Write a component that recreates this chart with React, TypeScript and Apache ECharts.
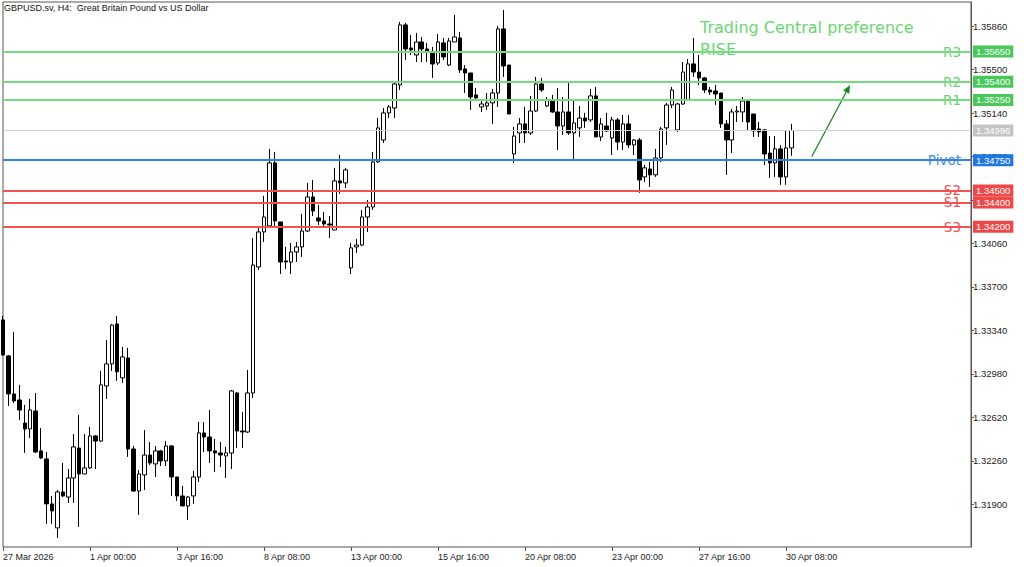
import React, { useEffect, useRef } from "react";
import * as echarts from "echarts";

// ---- Data (GBPUSD H4) ----
const opens = [
  1.33427, 1.33129, 1.32814, 1.32764, 1.32573, 1.32524, 1.32673, 1.32342, 1.32275, 1.31903,
  1.31704, 1.32002, 1.3196, 1.32118, 1.32366, 1.32151, 1.32201, 1.32466, 1.32424, 1.3288,
  1.33063, 1.33394, 1.32947, 1.33112, 1.32358, 1.3201, 1.32143, 1.32308, 1.32234, 1.32342,
  1.32259, 1.32383, 1.32126, 1.31969, 1.31886, 1.31969, 1.32126, 1.32491, 1.32457, 1.32342,
  1.32325, 1.323, 1.32325, 1.32822, 1.32507, 1.32499, 1.32822, 1.33866, 1.34156, 1.34206,
  1.34728, 1.34239, 1.33916, 1.33907, 1.3399, 1.34032, 1.34164, 1.34446, 1.34272, 1.34247,
  1.34222, 1.34172, 1.34579, 1.34562, 1.33858, 1.34032, 1.34048, 1.3428, 1.34363, 1.34736,
  1.34918, 1.35142, 1.35183, 1.35374, 1.35871, 1.3568, 1.35622, 1.3573, 1.35672, 1.35647,
  1.35556, 1.35722, 1.35539, 1.3573, 1.35763, 1.35506, 1.35473, 1.35291, 1.35192, 1.352,
  1.35225, 1.35307, 1.35838, 1.35539, 1.34802, 1.34976, 1.35051, 1.34976, 1.35158, 1.35382,
  1.352, 1.3525, 1.3515, 1.35034, 1.3515, 1.34976, 1.35018, 1.351, 1.35084, 1.35283,
  1.34943, 1.35034, 1.34935, 1.35084, 1.34901, 1.35051, 1.34877, 1.34918, 1.34612, 1.34678,
  1.34629, 1.34769, 1.35018, 1.35208, 1.35001, 1.35216, 1.3525, 1.35548, 1.35481, 1.35432,
  1.35332, 1.35324, 1.35307, 1.35051, 1.34918, 1.3515, 1.3515, 1.35241, 1.35133, 1.35009,
  1.35001, 1.3481, 1.34728, 1.34844, 1.34612, 1.34852,
];
const closes = [
  1.33137, 1.32814, 1.32756, 1.32681, 1.32524, 1.32681, 1.32333, 1.32284, 1.31903, 1.31845,
  1.32002, 1.31969, 1.32118, 1.32375, 1.32151, 1.32201, 1.32466, 1.32424, 1.32889, 1.33063,
  1.33385, 1.32997, 1.33121, 1.32358, 1.3201, 1.32151, 1.32308, 1.32242, 1.32342, 1.32259,
  1.32383, 1.32126, 1.31969, 1.31886, 1.3196, 1.32126, 1.32491, 1.32457, 1.32342, 1.32325,
  1.32308, 1.32325, 1.32839, 1.32507, 1.32499, 1.32822, 1.33882, 1.34156, 1.3428, 1.34728,
  1.34247, 1.33907, 1.33907, 1.3399, 1.34032, 1.34164, 1.34446, 1.3433, 1.34247, 1.34222,
  1.34214, 1.34579, 1.34562, 1.3467, 1.34024, 1.34048, 1.3428, 1.34363, 1.34736, 1.35018,
  1.35142, 1.35192, 1.35382, 1.35871, 1.35672, 1.35664, 1.3573, 1.35672, 1.35647, 1.35548,
  1.3573, 1.35606, 1.35738, 1.35771, 1.35498, 1.35473, 1.35274, 1.35266, 1.35216, 1.35225,
  1.35307, 1.35838, 1.35531, 1.35133, 1.34951, 1.35051, 1.34976, 1.35158, 1.35382, 1.35332,
  1.3525, 1.3515, 1.35034, 1.3515, 1.34976, 1.35059, 1.351, 1.35076, 1.35283, 1.34943,
  1.35051, 1.34993, 1.35084, 1.34901, 1.35051, 1.34877, 1.34918, 1.34587, 1.34687, 1.34629,
  1.34769, 1.35009, 1.35208, 1.35332, 1.35216, 1.35481, 1.35548, 1.35481, 1.35432, 1.35332,
  1.35316, 1.35299, 1.35051, 1.34918, 1.3515, 1.35158, 1.35241, 1.35067, 1.34993, 1.34984,
  1.34802, 1.34728, 1.34844, 1.34612, 1.34852, 1.34996,
];
const lows = [
  1.33129, 1.32714, 1.32739, 1.32598, 1.32325, 1.32449, 1.32325, 1.32275, 1.31737, 1.31737,
  1.31621, 1.3196, 1.31911, 1.31911, 1.31712, 1.32151, 1.32192, 1.32192, 1.32416, 1.32772,
  1.33005, 1.32922, 1.32905, 1.32292, 1.32002, 1.31812, 1.32018, 1.32226, 1.32126, 1.32217,
  1.32217, 1.31969, 1.31927, 1.31886, 1.3177, 1.31903, 1.32085, 1.32333, 1.32242, 1.32168,
  1.32209, 1.32118, 1.32192, 1.32366, 1.32366, 1.32491, 1.32781, 1.33841, 1.34073, 1.34197,
  1.34197, 1.33808, 1.33849, 1.33808, 1.33907, 1.33949, 1.34156, 1.34288, 1.34214, 1.34197,
  1.34106, 1.34172, 1.34471, 1.3452, 1.33808, 1.33982, 1.3404, 1.34156, 1.34338, 1.34728,
  1.34893, 1.351, 1.351, 1.35332, 1.35581, 1.35622, 1.35564, 1.35564, 1.35564, 1.35432,
  1.35539, 1.35581, 1.35531, 1.3573, 1.35473, 1.35307, 1.35167, 1.3525, 1.3515, 1.35167,
  1.35051, 1.35192, 1.3544, 1.35133, 1.34728, 1.34893, 1.34893, 1.3496, 1.3515, 1.35316,
  1.35192, 1.35142, 1.34835, 1.3496, 1.3496, 1.34753, 1.34943, 1.35018, 1.35067, 1.34943,
  1.3491, 1.34984, 1.34794, 1.34835, 1.34835, 1.34852, 1.34794, 1.3448, 1.3457, 1.34529,
  1.34612, 1.34736, 1.34877, 1.35183, 1.34984, 1.35208, 1.3525, 1.3544, 1.35374, 1.35307,
  1.35291, 1.35208, 1.35018, 1.34629, 1.3481, 1.35067, 1.35067, 1.35001, 1.34943, 1.34943,
  1.34711, 1.34604, 1.34612, 1.34546, 1.34546, 1.34786,
];
const highs = [
  1.3346, 1.33137, 1.33328, 1.32889, 1.32723, 1.32772, 1.32822, 1.32532, 1.32333, 1.31969,
  1.32018, 1.32242, 1.32192, 1.32482, 1.3264, 1.32482, 1.3254, 1.32474, 1.33005, 1.33261,
  1.33394, 1.3346, 1.33204, 1.33195, 1.32383, 1.32184, 1.32515, 1.32416, 1.32383, 1.3235,
  1.32424, 1.32391, 1.32126, 1.32052, 1.31969, 1.32176, 1.32582, 1.32582, 1.32681, 1.32441,
  1.32416, 1.32375, 1.32847, 1.3283, 1.32665, 1.33013, 1.34106, 1.34189, 1.34455, 1.34844,
  1.34819, 1.34239, 1.34032, 1.34065, 1.34073, 1.34305, 1.34562, 1.34587, 1.3438, 1.34322,
  1.34288, 1.34687, 1.34794, 1.34687, 1.34065, 1.34098, 1.34338, 1.34421, 1.34819, 1.351,
  1.35183, 1.35208, 1.3539, 1.35896, 1.35887, 1.35788, 1.35805, 1.35771, 1.35722, 1.35689,
  1.35796, 1.35763, 1.35763, 1.35954, 1.35813, 1.35539, 1.35473, 1.35349, 1.3525, 1.35307,
  1.35341, 1.35863, 1.35995, 1.35539, 1.35026, 1.351, 1.35192, 1.35283, 1.3544, 1.35432,
  1.35274, 1.35291, 1.35349, 1.35274, 1.35399, 1.3525, 1.352, 1.35142, 1.35341, 1.35357,
  1.351, 1.35142, 1.35109, 1.351, 1.35125, 1.35125, 1.34926, 1.34935, 1.34711, 1.34736,
  1.34844, 1.35026, 1.35225, 1.35357, 1.35225, 1.35564, 1.35589, 1.35763, 1.35622, 1.3544,
  1.35357, 1.35374, 1.35307, 1.35084, 1.35175, 1.352, 1.35274, 1.3525, 1.35133, 1.35067,
  1.35009, 1.34951, 1.34951, 1.34877, 1.35001, 1.35051,
];

const levelNames = ["R3", "R2", "R1", "Pivot", "S2", "S1", "S3"];
const levelValues = [1.3565, 1.354, 1.3525, 1.3475, 1.345, 1.344, 1.342];
const levelKinds = ["r", "r", "r", "p", "s", "s", "s"];
const lastPrice = 1.34996;
const yTickValues = [
  1.319, 1.3226, 1.3262, 1.3298, 1.3334, 1.337, 1.3406, 1.3442, 1.3478, 1.3514, 1.355, 1.3586,
];
const yMin = 1.31546;
const yMax = 1.36061;
const labelEvery = 16;
const padBars = 33;
const MONTHS = ["Jan", "Feb", "Mar", "Apr", "May", "Jun", "Jul", "Aug", "Sep", "Oct", "Nov", "Dec"];

function buildCategories(n: number, pad: number): string[] {
  const out: string[] = [];
  let t = Date.UTC(2026, 2, 27, 8);
  for (let i = 0; i < n; i++) {
    const d = new Date(t);
    const day = d.getUTCDate();
    const mon = MONTHS[d.getUTCMonth()];
    if (i === 0) out.push(`${day} ${mon} ${d.getUTCFullYear()}`);
    else out.push(`${day} ${mon} ${String(d.getUTCHours()).padStart(2, "0")}:00`);
    t += 4 * 3600e3;
    if (new Date(t).getUTCDay() === 6) t += 48 * 3600e3;
  }
  for (let i = 0; i < pad; i++) out.push(`pad${i}`);
  return out;
}

const LINE_COLORS: Record<string, string> = { r: "#74dc7e", p: "#2f82e6", s: "#f25252" };
const TAG_COLORS: Record<string, string> = { r: "#48c85a", p: "#1f77e6", s: "#f04848" };
const TEXT_COLORS: Record<string, string> = { r: "#66d672", p: "#3a8ae8", s: "#f05050" };

export default function App() {
  const ref = useRef<HTMLDivElement>(null);

  useEffect(() => {
    if (!ref.current) return;
    const chart = echarts.init(ref.current, undefined, { renderer: "svg" });
    const n = opens.length;
    const cats = buildCategories(n, padBars);
    const candles = opens.map((o, i) => [o, closes[i], lows[i], highs[i]]);
    const showIdx = (i: number) => i % labelEvery === 0 && i < n;
    const axisFont = "Liberation Sans";

    const tagLabel = (v: number, bg: string) => ({
      show: true,
      position: "end",
      distance: 2,
      formatter: v.toFixed(5),
      backgroundColor: bg,
      color: "#ffffff",
      padding: [1, 3, 1, 3],
      fontSize: 9.5,
      fontFamily: axisFont,
    });

    const markData: any[] = [
      {
        yAxis: lastPrice,
        lineStyle: { color: "#cfcfcf", width: 1, type: "solid" },
        label: tagLabel(lastPrice, "#c4c4c4"),
      },
      ...levelValues.map((v, i) => ({
        yAxis: v,
        lineStyle: { color: LINE_COLORS[levelKinds[i]], width: 1.8, type: "solid" },
        label: tagLabel(v, TAG_COLORS[levelKinds[i]]),
      })),
    ];

    chart.setOption({
      animation: false,
      backgroundColor: "#ffffff",
      grid: {
        left: 2,
        right: 53,
        top: 2,
        bottom: 20,
        show: true,
        borderColor: "#555555",
        borderWidth: 1,
        containLabel: false,
      },
      xAxis: {
        type: "category",
        data: cats,
        boundaryGap: false,
        axisLine: { show: false },
        axisTick: {
          show: true,
          length: 4,
          interval: (i: number) => showIdx(i),
          lineStyle: { color: "#555555" },
        },
        axisLabel: {
          interval: (i: number) => showIdx(i),
          align: "left",
          margin: 5,
          fontSize: 9,
          fontFamily: axisFont,
          color: "#222222",
        },
        splitLine: { show: false },
      },
      yAxis: {
        type: "value",
        position: "right",
        min: yMin,
        max: yMax,
        axisLine: { show: true, lineStyle: { color: "#555555" } },
        axisTick: {
          show: true,
          length: 3,
          customValues: yTickValues,
          lineStyle: { color: "#555555" },
        },
        axisLabel: {
          customValues: yTickValues,
          formatter: (v: number) => v.toFixed(5),
          margin: 2,
          fontSize: 9.5,
          fontFamily: axisFont,
          color: "#222222",
        },
        splitLine: { show: false },
      },
      series: [
        {
          type: "candlestick",
          data: candles,
          barWidth: 4,
          itemStyle: {
            color: "#ffffff",
            color0: "#000000",
            borderColor: "#000000",
            borderColor0: "#000000",
            borderWidth: 1,
          },
          markLine: {
            symbol: ["none", "none"],
            silent: true,
            animation: false,
            precision: 5,
            data: markData,
          },
        },
      ],
    });

    const levelTexts = levelValues.map((v, i) => {
      const y = chart.convertToPixel({ yAxisIndex: 0 }, v) as number;
      return {
        type: "text",
        x: 961,
        y,
        silent: true,
        style: {
          text: levelNames[i],
          fill: TEXT_COLORS[levelKinds[i]],
          font: '13.5px "DejaVu Sans"',
          align: "right",
          verticalAlign: "middle",
        },
      };
    });

    // arrow annotation
    const tip = [850, 85];
    const start = [811.7, 156.7];
    const dx = tip[0] - start[0];
    const dy = tip[1] - start[1];
    const len = Math.sqrt(dx * dx + dy * dy);
    const ux = dx / len;
    const uy = dy / len;
    const bx = tip[0] - 8 * ux;
    const by = tip[1] - 8 * uy;
    const px = -uy;
    const py = ux;

    chart.setOption({
      graphic: [
        {
          type: "text",
          x: 4,
          y: 3,
          silent: true,
          style: {
            text: "GBPUSD.sv, H4:  Great Britain Pound vs US Dollar",
            fill: "#111111",
            font: '9px "Liberation Sans"',
            align: "left",
            verticalAlign: "top",
          },
        },
        {
          type: "text",
          x: 700,
          y: 27,
          silent: true,
          style: {
            text: "Trading Central preference",
            fill: "#6ad672",
            font: '16px "DejaVu Sans"',
            align: "left",
            verticalAlign: "middle",
          },
        },
        {
          type: "text",
          x: 700,
          y: 49,
          silent: true,
          style: {
            text: "RISE",
            fill: "#6ad672",
            font: '16px "DejaVu Sans"',
            align: "left",
            verticalAlign: "middle",
          },
        },
        {
          type: "line",
          silent: true,
          shape: { x1: start[0], y1: start[1], x2: bx, y2: by },
          style: { stroke: "#1a8a22", lineWidth: 1.3 },
        },
        {
          type: "polygon",
          silent: true,
          shape: {
            points: [
              [tip[0], tip[1]],
              [bx + 3.5 * px, by + 3.5 * py],
              [bx - 3.5 * px, by - 3.5 * py],
            ],
          },
          style: { fill: "#1a8a22" },
        },
        ...levelTexts,
      ],
    });

    return () => {
      chart.dispose();
    };
  }, []);

  return (
    <div
      ref={ref}
      style={{ position: "fixed", left: 0, top: 0, width: 1024, height: 567, background: "#ffffff" }}
    />
  );
}
